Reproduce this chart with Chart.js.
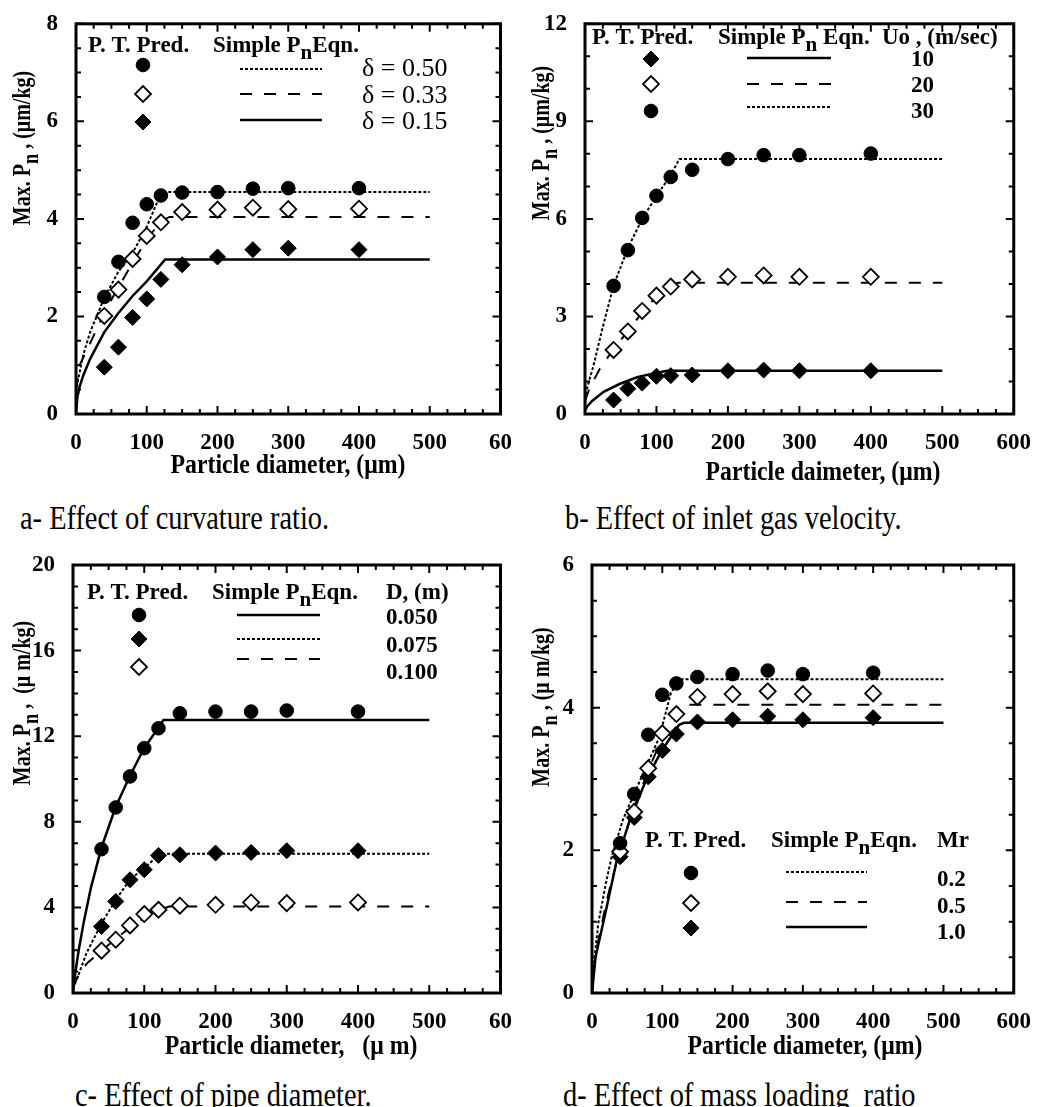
<!DOCTYPE html>
<html>
<head>
<meta charset="utf-8">
<script src="https://cdn.jsdelivr.net/npm/chart.js@4"></script>
<style>
  body { margin: 0; background: #fff; width: 1038px; height: 1107px; position: relative; overflow: hidden; }
  canvas { position: absolute; }
  .caption { position: absolute; font-family: 'Liberation Serif', 'Times New Roman', serif; font-size: 33px; line-height: 33px; white-space: pre; color: #000; transform: scaleX(0.86); transform-origin: 0 0; }
</style>
</head>
<body>
<canvas id="chartA" width="519" height="485" style="left:0;top:0"></canvas>
<canvas id="chartB" width="519" height="485" style="left:519px;top:0"></canvas>
<canvas id="chartC" width="519" height="530" style="left:0;top:540px"></canvas>
<canvas id="chartD" width="519" height="530" style="left:519px;top:540px"></canvas>
<div class="caption" style="left:20px;top:502px">a- Effect of curvature ratio.</div>
<div class="caption" style="left:565px;top:502px">b- Effect of inlet gas velocity.</div>
<div class="caption" style="left:75px;top:1079px">c- Effect of pipe diameter.</div>
<div class="caption" style="left:563px;top:1079px">d- Effect of mass loading  ratio</div>
<script>
// particle diameters of the P. T. predictions (um)
const diameters = [40, 60, 80, 100, 120, 150, 200, 250, 300, 400];

// a - curvature ratio
const curvLabels = ['δ = 0.50', 'δ = 0.33', 'δ = 0.15'];
const predCurv050 = [2.40, 3.12, 3.92, 4.30, 4.48, 4.54, 4.55, 4.62, 4.63, 4.63];
const predCurv033 = [2.01, 2.55, 3.18, 3.65, 3.93, 4.14, 4.19, 4.23, 4.20, 4.21];
const predCurv015 = [0.96, 1.37, 1.98, 2.36, 2.76, 3.06, 3.22, 3.37, 3.40, 3.37];
const eqnCurv050 = [[0,0.45],[3,0.7],[10,1.2],[20,1.68],[40,2.38],[60,2.92],[80,3.3],[100,3.84],[118,4.45],[125,4.55],[500,4.55]];
const eqnCurv033 = [[0,0.5],[5,1.0],[20,1.45],[40,2.08],[60,2.6],[80,3.1],[100,3.58],[120,3.95],[132,4.04],[500,4.04]];
const eqnCurv015 = [[0,0],[2,0.35],[5,0.55],[10,0.78],[20,1.13],[40,1.68],[60,2.07],[80,2.42],[100,2.72],[126,3.17],[500,3.17]];

// b - inlet gas velocity
const velLabels = ['10', '20', '30'];
const predVel10 = [0.43, 0.78, 0.95, 1.16, 1.18, 1.20, 1.33, 1.35, 1.33, 1.33];
const predVel20 = [1.97, 2.54, 3.17, 3.64, 3.92, 4.14, 4.22, 4.26, 4.22, 4.22];
const predVel30 = [3.94, 5.04, 6.03, 6.71, 7.29, 7.51, 7.84, 7.96, 7.96, 8.01];
const eqnVel10 = [[0,0.1],[3,0.23],[10,0.4],[26,0.68],[49,0.93],[73,1.13],[96,1.25],[115,1.33],[500,1.33]];
const eqnVel20 = [[0,0.4],[7,0.83],[21,1.4],[40,2.0],[60,2.55],[80,3.12],[100,3.62],[120,3.92],[130,4.04],[500,4.04]];
const eqnVel30 = [[0,0.3],[3,0.8],[12,1.5],[24,2.6],[40,3.95],[60,5.1],[80,6.0],[100,6.7],[120,7.35],[132,7.84],[500,7.84]];

// c - pipe diameter
const pipeLabels = ['0.050', '0.075', '0.100'];
const predPipe050 = [6.72, 8.67, 10.12, 11.44, 12.37, 13.07, 13.15, 13.15, 13.20, 13.15];
const predPipe075 = [3.11, 4.28, 5.29, 5.76, 6.43, 6.46, 6.54, 6.57, 6.65, 6.65];
const predPipe100 = [1.98, 2.49, 3.16, 3.69, 3.89, 4.08, 4.12, 4.23, 4.20, 4.23];
const eqnPipe050 = [[0,0],[3,0.9],[8,2.0],[15,3.3],[25,4.9],[40,6.8],[60,8.7],[80,10.15],[100,11.45],[120,12.4],[127,12.76],[500,12.76]];
const eqnPipe075 = [[0,0.2],[7,0.78],[19,1.87],[40,3.25],[60,4.35],[80,5.3],[100,5.84],[120,6.43],[125,6.51],[500,6.51]];
const eqnPipe100 = [[0,0.3],[9,0.93],[20,1.4],[42,2.02],[61,2.57],[82,3.11],[103,3.58],[121,3.89],[135,4.04],[500,4.04]];

// d - mass loading ratio
const loadLabels = ['0.2', '0.5', '1.0'];
const predLoad02 = [2.10, 2.79, 3.62, 4.18, 4.34, 4.43, 4.47, 4.52, 4.47, 4.49];
const predLoad05 = [1.98, 2.54, 3.15, 3.64, 3.91, 4.15, 4.19, 4.23, 4.19, 4.20];
const predLoad10 = [1.91, 2.46, 3.03, 3.40, 3.63, 3.80, 3.83, 3.88, 3.83, 3.86];
const eqnLoad02 = [[0,0],[2,0.35],[9,0.98],[20,1.55],[28,1.91],[44,2.43],[58,2.75],[77,3.17],[96,3.59],[112,4.2],[124,4.40],[500,4.40]];
const eqnLoad05 = [[0,0],[5,0.55],[21,1.3],[38,1.95],[58,2.55],[80,3.12],[100,3.58],[118,3.92],[128,4.04],[500,4.04]];
const eqnLoad10 = [[0,0],[5,0.5],[21,1.21],[35,1.85],[54,2.43],[77,2.99],[100,3.41],[124,3.76],[131,3.79],[500,3.79]];

// tick labels
const xTickLabelsCut = ['0', '100', '200', '300', '400', '500', '60'];
const xTickLabels = ['0', '100', '200', '300', '400', '500', '600'];
const yTicksA = ['0', '2', '4', '6', '8'];
const yTicksB = ['0', '3', '6', '9', '12'];
const yTicksC = ['0', '4', '8', '12', '16', '20'];
const yTicksD = ['0', '2', '4', '6'];

const FONT = "'Liberation Serif', 'Times New Roman', serif";

const circle = {pointStyle: 'circle', pointRadius: 6.8, backgroundColor: '#000', borderColor: '#000', borderWidth: 1};
const openDiamond = {pointStyle: 'rectRot', pointRadius: 8, backgroundColor: '#fff', borderColor: '#000', borderWidth: 1.8};
const fullDiamond = {pointStyle: 'rectRot', pointRadius: 8, backgroundColor: '#000', borderColor: '#000', borderWidth: 1};
const dotted = {borderDash: [3, 2], borderWidth: 2};
const dashed = {borderDash: [12, 12], borderWidth: 2};
const solid = {borderDash: [], borderWidth: 2.5};

function predSet(values, marker) {
	return Object.assign({
		data: diameters.map((d, i) => ({x: d, y: values[i]})),
		showLine: false,
		pointHoverRadius: 0
	}, marker);
}

function eqnSet(points, style) {
	return Object.assign({
		data: points.map(p => ({x: p[0], y: p[1]})),
		showLine: true,
		borderColor: '#000',
		pointRadius: 0,
		tension: 0,
		fill: false
	}, style);
}

// text with a lowered "n": segs = [[text, isSub], ...], sx = horizontal squeeze
function richText(ctx, segs, x, y, size, weight, align, sx) {
	sx = sx || 1;
	let w = 0;
	const parts = segs.map(s => {
		const fs = s[1] ? Math.round(size * 0.9) : size;
		ctx.font = weight + ' ' + fs + 'px ' + FONT;
		const pw = ctx.measureText(s[0]).width;
		w += pw;
		return {t: s[0], fs: fs, pw: pw, dy: s[1] ? size * 0.32 : 0};
	});
	ctx.save();
	ctx.translate(x, y);
	ctx.scale(sx, 1);
	let cx = align === 'center' ? -w / 2 : 0;
	ctx.textAlign = 'left';
	ctx.textBaseline = 'alphabetic';
	parts.forEach(p => {
		ctx.font = weight + ' ' + p.fs + 'px ' + FONT;
		ctx.fillText(p.t, cx, p.dy);
		cx += p.pw;
	});
	ctx.restore();
}

function legendMarker(ctx, ds, x, y) {
	ctx.save();
	ctx.fillStyle = ds.backgroundColor;
	ctx.strokeStyle = ds.borderColor;
	ctx.lineWidth = ds.borderWidth;
	ctx.setLineDash([]);
	const r = ds.pointRadius;
	ctx.beginPath();
	if (ds.pointStyle === 'circle') {
		ctx.arc(x, y, r, 0, Math.PI * 2);
	} else {
		ctx.moveTo(x, y - r); ctx.lineTo(x + r, y); ctx.lineTo(x, y + r); ctx.lineTo(x - r, y);
		ctx.closePath();
	}
	ctx.fill();
	ctx.stroke();
	ctx.restore();
}

const decor = {
	id: 'decor',
	afterDraw(chart, args, o) {
		const ctx = chart.ctx;
		const {left, right, top, bottom} = chart.chartArea;
		const xs = chart.scales.x, ys = chart.scales.y;
		ctx.save();
		ctx.strokeStyle = '#000';
		ctx.fillStyle = '#000';

		// inward ticks on all four sides
		ctx.lineWidth = 2;
		ctx.beginPath();
		for (let v = xs.min; v <= xs.max + 1e-9; v += o.xMinor) {
			const px = xs.getPixelForValue(v);
			const len = Math.abs(v / o.xMajor - Math.round(v / o.xMajor)) < 1e-6 ? 8 : 5;
			ctx.moveTo(px, bottom); ctx.lineTo(px, bottom - len);
			ctx.moveTo(px, top); ctx.lineTo(px, top + len);
		}
		for (let v = ys.min; v <= ys.max + 1e-9; v += o.yMinor) {
			const py = ys.getPixelForValue(v);
			const len = Math.abs(v / o.yMajor - Math.round(v / o.yMajor)) < 1e-6 ? 8 : 5;
			ctx.moveTo(left, py); ctx.lineTo(left + len, py);
			ctx.moveTo(right, py); ctx.lineTo(right - len, py);
		}
		ctx.stroke();
		ctx.lineWidth = 3;
		ctx.strokeRect(left, top, right - left, bottom - top);

		// axis titles
		richText(ctx, [[o.xTitle, false]], o.xTitlePos[0], o.xTitlePos[1], 27, 'bold', 'center', 0.88);
		ctx.save();
		ctx.translate(o.yTitlePos[0], o.yTitlePos[1]);
		ctx.rotate(-Math.PI / 2);
		richText(ctx, o.yTitle, 0, 0, 25, 'bold', 'center', 0.8);
		ctx.restore();

		// legend: header, then marker / line sample / label per row
		const lg = o.legend;
		lg.heads.forEach(h => richText(ctx, h.segs, h.x, lg.headY, 23, 'bold', 'left'));
		const dsets = chart.data.datasets;
		for (let i = 0; i < 3; i++) {
			const row = lg.rows[i];
			legendMarker(ctx, dsets[i], lg.markX, row[0]);
			const ln = dsets[i + 3];
			ctx.save();
			ctx.lineWidth = ln.borderWidth;
			ctx.setLineDash(ln.borderDash);
			ctx.beginPath();
			ctx.moveTo(lg.lineX[0], row[1]);
			ctx.lineTo(lg.lineX[1], row[1]);
			ctx.stroke();
			ctx.restore();
			richText(ctx, [[lg.labels[i], false]], lg.labelX, row[2], lg.labelSize, lg.labelWeight, 'left');
		}
		ctx.restore();
	}
};

function makeChart(id, datasets, p) {
	return new Chart(document.getElementById(id), {
		type: 'scatter',
		data: {datasets: datasets},
		plugins: [decor],
		options: {
			responsive: false,
			animation: false,
			events: [],
			layout: {padding: {left: 0, top: p.padTop, right: p.padRight, bottom: 0}},
			plugins: {
				legend: {display: false},
				tooltip: {enabled: false},
				decor: p.decor
			},
			scales: {
				x: {
					type: 'linear', min: 0, max: 600,
					grid: {display: false}, border: {display: false},
					afterFit: s => { s.height = p.xHeight; },
					ticks: {
						stepSize: 100, autoSkip: false, maxRotation: 0, padding: 7, color: '#000',
						font: {family: FONT, size: 23, weight: 'bold'},
						callback: (v, i) => p.xLabels[i]
					}
				},
				y: {
					type: 'linear', min: 0, max: p.yMax,
					grid: {display: false}, border: {display: false},
					afterFit: s => { s.width = p.yWidth; },
					ticks: {
						stepSize: p.yStep, autoSkip: false, padding: 10, color: '#000',
						font: {family: FONT, size: 23, weight: 'bold'},
						callback: (v, i) => p.yLabels[i]
					}
				}
			}
		}
	});
}

const pnHead = [['Simple P', false], ['n', true], ['Eqn.', false]];

makeChart('chartA', [
	predSet(predCurv050, circle), predSet(predCurv033, openDiamond), predSet(predCurv015, fullDiamond),
	eqnSet(eqnCurv050, dotted), eqnSet(eqnCurv033, dashed), eqnSet(eqnCurv015, solid)
], {
	padTop: 20, padRight: 14, xHeight: 71, yWidth: 76, yMax: 8, yStep: 2,
	xLabels: xTickLabelsCut, yLabels: yTicksA,
	decor: {
		xMajor: 100, xMinor: 25, yMajor: 2, yMinor: 0.5,
		xTitle: 'Particle diameter, (μm)', xTitlePos: [288, 473],
		yTitle: [['Max. P', false], ['n', true], [' , (μm/kg)', false]], yTitlePos: [30, 148],
		legend: {
			headY: 52,
			heads: [{x: 88, segs: [['P. T. Pred.', false]]}, {x: 213, segs: pnHead}],
			markX: 143, lineX: [240, 322], labelX: 362,
			rows: [[65, 69, 76], [94, 94, 103], [122, 120, 129]],
			labels: curvLabels, labelSize: 26, labelWeight: 'normal'
		}
	}
});

makeChart('chartB', [
	predSet(predVel10, fullDiamond), predSet(predVel20, openDiamond), predSet(predVel30, circle),
	eqnSet(eqnVel10, solid), eqnSet(eqnVel20, dashed), eqnSet(eqnVel30, dotted)
], {
	padTop: 13, padRight: 22, xHeight: 71, yWidth: 66, yMax: 12, yStep: 3,
	xLabels: xTickLabels, yLabels: yTicksB,
	decor: {
		xMajor: 100, xMinor: 25, yMajor: 3, yMinor: 1,
		xTitle: 'Particle daimeter, (μm)', xTitlePos: [304, 480],
		yTitle: [['Max. P', false], ['n', true], [' , (μm/kg)', false]], yTitlePos: [30, 143],
		legend: {
			headY: 44,
			heads: [{x: 73, segs: [['P. T. Pred.', false]]},
				{x: 199, segs: [['Simple P', false], ['n', true], [' Eqn.', false]]},
				{x: 363, segs: [['Uo , (m/sec)', false]]}],
			markX: 132, lineX: [228, 312], labelX: 392,
			rows: [[59, 58, 66], [84, 84, 92], [111, 107, 118]],
			labels: velLabels, labelSize: 23, labelWeight: 'bold'
		}
	}
});

makeChart('chartC', [
	predSet(predPipe050, circle), predSet(predPipe075, fullDiamond), predSet(predPipe100, openDiamond),
	eqnSet(eqnPipe050, solid), eqnSet(eqnPipe075, dotted), eqnSet(eqnPipe100, dashed)
], {
	padTop: 25, padRight: 17, xHeight: 77, yWidth: 73, yMax: 20, yStep: 4,
	xLabels: xTickLabelsCut, yLabels: yTicksC,
	decor: {
		xMajor: 100, xMinor: 25, yMajor: 4, yMinor: 1,
		xTitle: 'Particle diameter,   (μ m)', xTitlePos: [291, 514],
		yTitle: [['Max. P', false], ['n', true], [' ,  (μ m/kg)', false]], yTitlePos: [30, 163],
		legend: {
			headY: 59,
			heads: [{x: 87, segs: [['P. T. Pred.', false]]}, {x: 212, segs: pnHead},
				{x: 386, segs: [['D, (m)', false]]}],
			markX: 139, lineX: [237, 320], labelX: 386,
			rows: [[75, 75, 84], [99, 99, 112], [127, 119, 139]],
			labels: pipeLabels, labelSize: 23, labelWeight: 'bold'
		}
	}
});

makeChart('chartD', [
	predSet(predLoad02, circle), predSet(predLoad05, openDiamond), predSet(predLoad10, fullDiamond),
	eqnSet(eqnLoad02, dotted), eqnSet(eqnLoad05, dashed), eqnSet(eqnLoad10, solid)
], {
	padTop: 25, padRight: 19, xHeight: 77, yWidth: 73, yMax: 6, yStep: 2,
	xLabels: xTickLabels, yLabels: yTicksD,
	decor: {
		xMajor: 100, xMinor: 25, yMajor: 2, yMinor: 0.5,
		xTitle: 'Particle diameter, (μm)', xTitlePos: [286, 514],
		yTitle: [['Max. P', false], ['n', true], [' , (μ m/kg)', false]], yTitlePos: [30, 167],
		legend: {
			headY: 307,
			heads: [{x: 126, segs: [['P. T. Pred.', false]]}, {x: 252, segs: pnHead},
				{x: 418, segs: [['Mr', false]]}],
			markX: 172, lineX: [267, 348], labelX: 418,
			rows: [[333, 332, 346], [363, 362, 373], [388, 387, 399]],
			labels: loadLabels, labelSize: 23, labelWeight: 'bold'
		}
	}
});
</script>
</body>
</html>
